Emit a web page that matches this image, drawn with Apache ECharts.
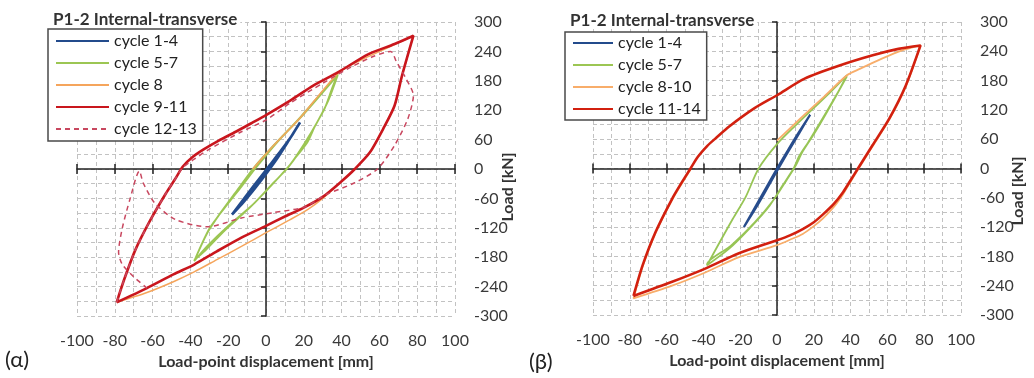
<!DOCTYPE html>
<html>
<head>
<meta charset="utf-8">
<script src="https://cdn.jsdelivr.net/npm/echarts/dist/echarts.min.js"></script>
<style>
  html, body { margin: 0; padding: 0; background: #fff; }
  #container { width: 1034px; height: 378px; }
</style>
</head>
<body>
<div id="container"></div>
<script>
// ---- data: [displacement mm, load kN] ----
// panel (α)
var aCycle1_4 = [[-18,-93],[-12,-68],[-6,-40],[0,-10],[6,22],[12,58],[18,95],[14,70],[8,38],[2,8],[-4,-22],[-10,-52],[-18,-93]];
var aCycle5_7 = [[-38,-188],[-31,-130],[-24,-89],[-15,-42],[-7,0],[4,48],[18,105],[30,158],[38,194],[35,165],[31,123],[26,88],[22,55],[16,25],[11,0],[4,-28],[-6,-69],[-20,-116],[-31,-157],[-38,-188],
                 [-30,-122],[-22,-80],[-13,-36],[-5,4],[6,55],[20,112],[38,192],[33,140],[27,95],[20,50],[13,10],[8,-12],[0,-45],[-10,-84],[-22,-126],[-32,-166],[-38,-186]];
var aCycle8 = [[-7,0],[4,48],[18,104],[38,195],[50,222],[62,243],[78,272],[72,190],[68,129],[62,82],[55,34],[47,0],[40,-25],[30,-60],[22,-83],[12,-105],[0,-130],[-13,-158],[-26,-185],[-38,-210],[-49,-230],[-63,-252],[-79,-272]];
var aCycle9_11 = [[-79,-272],[-75,-225],[-69,-164],[-61,-103],[-53,-50],[-48,-20],[-44,5],[-39,24],[-33,40],[-25,58],[-16,76],[-7,95],[0,110],[13,140],[25,170],[38,197],[54,234],[68,255],[78,272],
                  [72,191],[68,129],[62,82],[55,34],[47,0],[40,-25],[30,-57],[20,-79],[10,-97],[0,-116],[-13,-140],[-26,-168],[-38,-195],[-49,-215],[-63,-243],[-79,-272]];
var aCycle12_13 = [[-79,-272],[-75,-225],[-69,-164],[-61,-103],[-53,-50],[-48,-20],[-44,3],[-38,20],[-31,38],[-13,76],[0,100],[13,135],[30,175],[45,208],[57,230],[66,240],
                   [69,219],[74,185],[78,150],[75,102],[68,48],[59,0],[47,-28],[32,-52],[20,-78],[4,-89],[-13,-100],[-31,-118],[-48,-103],[-59,-69],[-65,-28],[-67,-4],
                   [-72,-62],[-76,-120],[-78,-170],[-76,-195],[-70,-220],[-63,-243]];
// panel (β)
var bCycle1_4 = [[-18,-120],[-12,-80],[-6,-40],[0,0],[6,38],[12,75],[18,110],[12,72],[6,34],[0,-5],[-6,-45],[-12,-84],[-18,-120]];
var bCycle5_7 = [[-38,-198],[-31,-150],[-24,-103],[-17,-58],[-10,0],[0,50],[10,88],[20,124],[30,160],[38,191],[33,155],[28,123],[22,85],[17,54],[12,25],[9,0],[3,-35],[-4,-76],[-15,-123],[-26,-164],[-38,-198],
                 [-38,-196],[-25,-158],[-12,-110],[-2,-65],[5,-25],[10,5],[14,35],[20,70],[26,108],[32,148],[38,189]];
var bCycle8_10 = [[0,57],[12,100],[25,145],[38,191],[45,204],[57,225],[68,242],[78,252],[70,168],[61,100],[52,46],[44,-2],[40,-27],[36,-52],[31,-78],[25,-102],[20,-118],[14,-134],[7,-146],[0,-157],[-21,-182],[-39,-213],[-57,-240],[-78,-266],
                  [-73,-200],[-66,-132],[-57,-64],[-47,-2]];
var bCycle11_14 = [[-78,-261],[-73,-198],[-66,-130],[-57,-62],[-52,-30],[-47,0],[-43,24],[-38,46],[-33,63],[-26,86],[-12,124],[0,150],[15,184],[34,211],[52,232],[66,245],[78,252],
                   [70,170],[61,102],[52,48],[44,0],[40,-24],[36,-48],[31,-72],[25,-94],[20,-110],[14,-124],[7,-137],[0,-147],[-21,-174],[-39,-205],[-57,-232],[-78,-261]];

var xTicks = [-100, 100, 20];   // min, max, label step
var yTicks = [-300, 300, 60];

var aNames = ['cycle 1-4', 'cycle 5-7', 'cycle 8', 'cycle 9-11', 'cycle 12-13'];
var bNames = ['cycle 1-4', 'cycle 5-7', 'cycle 8-10', 'cycle 11-14'];

var FONT = 'Lato, "Open Sans", sans-serif';

function axesFor(g) {
    var xs = [
        {
            gridIndex: g, type: 'value', min: xTicks[0], max: xTicks[1], interval: xTicks[2] / 2, position: 'bottom',
            axisLine: {show: false, onZero: false}, axisTick: {show: false},
            axisLabel: {margin: 17, color: '#3a3a3a', fontSize: 16, fontFamily: FONT,
                formatter: function (v) { return v % xTicks[2] === 0 ? String(v) : ''; }},
            splitLine: {show: true, lineStyle: {color: '#c2c2c2', width: 1, type: [4, 3]}},
            name: 'Load-point displacement [mm]', nameLocation: 'middle', nameGap: 28,
            nameTextStyle: {fontFamily: FONT, fontSize: 16, fontWeight: 'bold', color: '#333'}
        },
        {
            gridIndex: g, type: 'value', min: xTicks[0], max: xTicks[1], interval: xTicks[2],
            axisLine: {onZero: true, lineStyle: {color: '#222', width: 1.5}},
            axisTick: {show: true, length: 5, lineStyle: {color: '#222', width: 1.5}},
            axisLabel: {show: false}, splitLine: {show: false}
        },
        {
            gridIndex: g, type: 'value', min: xTicks[0], max: xTicks[1], interval: xTicks[2],
            axisLine: {show: false, onZero: true},
            axisTick: {show: true, inside: true, length: 5, lineStyle: {color: '#222', width: 1.5}},
            axisLabel: {show: false}, splitLine: {show: false}
        }
    ];
    var ys = [
        {
            gridIndex: g, type: 'value', min: yTicks[0], max: yTicks[1], interval: yTicks[2] / 2, position: 'right',
            axisLine: {show: false, onZero: false}, axisTick: {show: false},
            axisLabel: {margin: 19, color: '#3a3a3a', fontSize: 16, fontFamily: FONT,
                formatter: function (v) { return v % yTicks[2] === 0 ? String(v) : ''; }},
            splitLine: {show: true, lineStyle: {color: '#c2c2c2', width: 1, type: [4, 3]}}
        },
        {
            gridIndex: g, type: 'value', min: yTicks[0], max: yTicks[1], interval: yTicks[2],
            axisLine: {onZero: true, lineStyle: {color: '#222', width: 1.5}},
            axisTick: {show: true, length: 5, lineStyle: {color: '#222', width: 1.5}},
            axisLabel: {show: false}, splitLine: {show: false}
        },
        {
            gridIndex: g, type: 'value', min: yTicks[0], max: yTicks[1], interval: yTicks[2],
            axisLine: {show: false, onZero: true},
            axisTick: {show: true, inside: true, length: 5, lineStyle: {color: '#222', width: 1.5}},
            axisLabel: {show: false}, splitLine: {show: false}
        }
    ];
    return {x: xs, y: ys};
}

function line(name, data, axis, color, width, z, dashed) {
    return {
        type: 'line', name: name, data: data, xAxisIndex: axis, yAxisIndex: axis,
        symbol: 'none', smooth: 0.25, z: z,
        lineStyle: {color: color, width: width, type: dashed ? [5, 4] : 'solid'},
        itemStyle: {color: color}
    };
}

// rotated y axis title, reads bottom to top
function yName(cx, cy) {
    return {
        type: 'text', x: cx, y: cy, rotation: Math.PI / 2,
        style: {text: 'Load [kN]', align: 'center', verticalAlign: 'middle',
            font: 'bold 16px ' + FONT, fill: '#333'}
    };
}

var ax0 = axesFor(0);
var ax1 = axesFor(1);

var myChart = echarts.init(document.getElementById('container'));

var legendBase = {
    orient: 'vertical', itemHeight: 14, itemGap: 6,
    backgroundColor: '#fff', borderColor: '#4a4a4a', borderWidth: 1.5, borderRadius: 0,
    textStyle: {fontFamily: FONT, fontSize: 16, color: '#222'},
    itemStyle: {opacity: 0},
    selectedMode: false, z: 10
};

var option = {
    animation: false,
    backgroundColor: '#fff',
    title: [
        {text: 'P1-2 Internal-transverse', left: 50, top: 11, padding: [0, 3], backgroundColor: '#fff', z: 10,
            textStyle: {fontFamily: FONT, fontSize: 17, fontWeight: 'bold', color: '#333'}},
        {text: 'P1-2 Internal-transverse', left: 567, top: 12, padding: [0, 3], backgroundColor: '#fff', z: 10,
            textStyle: {fontFamily: FONT, fontSize: 17, fontWeight: 'bold', color: '#333'}},
        {text: '(α)', left: 5, top: 349, padding: 0,
            textStyle: {fontFamily: FONT, fontSize: 22, fontWeight: 'normal', color: '#222'}},
        {text: '(β)', left: 529, top: 351, padding: 0,
            textStyle: {fontFamily: FONT, fontSize: 22, fontWeight: 'normal', color: '#222'}}
    ],
    graphic: [yName(508, 187), yName(1018, 191)],
    legend: [
        Object.assign({}, legendBase, {data: aNames, left: 48, top: 29, itemWidth: 53, padding: [4, 6, 4, 7]}),
        Object.assign({}, legendBase, {data: bNames, left: 565, top: 32, itemWidth: 40, padding: [3, 6, 3, 7]})
    ],
    grid: [
        {left: 77, top: 22, width: 378, height: 294},
        {left: 593, top: 22, width: 368, height: 293}
    ],
    xAxis: ax0.x.concat(ax1.x),
    yAxis: ax0.y.concat(ax1.y),
    series: [
        line('cycle 5-7', aCycle5_7, 0, '#9cc653', 1.8, 3),
        line('cycle 8', aCycle8, 0, '#f5a55c', 1.5, 4),
        line('cycle 9-11', aCycle9_11, 0, '#c9161d', 2.6, 5),
        line('cycle 12-13', aCycle12_13, 0, '#c8475f', 1.5, 6, true),
        line('cycle 1-4', aCycle1_4, 0, '#234b8c', 2.6, 7),

        line('cycle 5-7', bCycle5_7, 3, '#97c555', 1.8, 3),
        line('cycle 8-10', bCycle8_10, 3, '#f8ad6a', 1.8, 4),
        line('cycle 11-14', bCycle11_14, 3, '#d2200f', 2.6, 5),
        line('cycle 1-4', bCycle1_4, 3, '#274c8c', 2.2, 7)
    ]
};

myChart.setOption(option);
</script>
</body>
</html>
